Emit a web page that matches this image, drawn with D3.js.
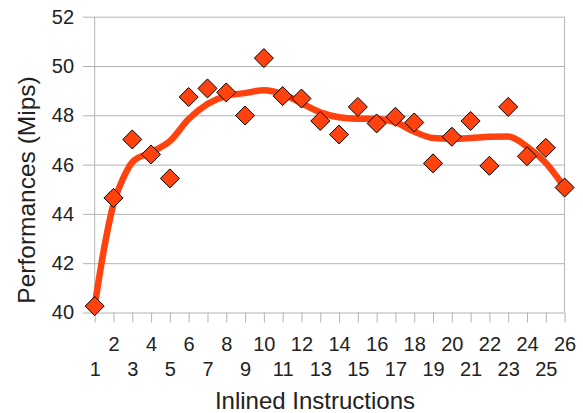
<!DOCTYPE html>
<html>
<head>
<meta charset="utf-8">
<script src="https://cdn.jsdelivr.net/npm/d3@7"></script>
<style>
  html, body { margin: 0; padding: 0; background: #fff; }
  svg { display: block; }
  text { font-family: "Liberation Sans", Arial, sans-serif; fill: #222; }
</style>
</head>
<body>
<svg id="chart" width="583" height="413"></svg>
<script>
// ---- data ----
const categories = [1,2,3,4,5,6,7,8,9,10,11,12,13,14,15,16,17,18,19,20,21,22,23,24,25,26];
const values = [40.26,44.65,47.02,46.41,45.44,48.74,49.09,48.93,47.99,50.32,48.78,48.68,47.77,47.22,48.34,47.67,47.94,47.71,46.05,47.13,47.77,45.95,48.34,46.34,46.68,45.07];
// smoothed trend line
const trendX = [1,1.5,2,2.5,3,4,5,6,7,8,9,10,11,12,13,14,15,16,17,18,19,20,21,22,23,24,25,26];
const trendY = [40.26,42.6,44.4,45.42,46.1,46.5,46.95,47.85,48.46,48.79,48.9,49.02,48.86,48.49,48.12,47.92,47.86,47.85,47.72,47.34,47.08,47.05,47.08,47.13,47.14,46.73,46.07,45.07];
const yTicks = [40,42,44,46,48,50,52];
const xTickLabels = categories.map(String);

// ---- layout ----
(function () {
const svg = d3.select("#chart");
const pLeft = 94.7, pRight = 564.6, pTop = 16.7, pBottom = 312.5;
const x = d3.scaleLinear().domain([1, 26]).range([pLeft, pRight]);
const y = d3.scaleLinear().domain([40, 52]).range([pBottom, pTop]);
const gridColor = "#b3b3b3";
const orange = "#ff420e";

// horizontal grid + y labels
const yAxis = d3.axisLeft(y).tickValues(yTicks).tickSize(pRight - 83).tickPadding(9)
  .tickFormat(d3.format("d"));
const gy = svg.append("g").attr("transform", `translate(${pRight},0)`).call(yAxis);
gy.select(".domain").remove();
gy.selectAll(".tick line").attr("stroke", gridColor).attr("stroke-width", 1);
gy.selectAll(".tick text").attr("font-size", 20).attr("fill", "#222")
  .attr("font-family", "Liberation Sans, Arial, sans-serif");

// vertical frame lines
svg.append("line").attr("x1", pLeft).attr("x2", pLeft).attr("y1", pTop).attr("y2", pBottom)
  .attr("stroke", gridColor);
svg.append("line").attr("x1", pRight).attr("x2", pRight).attr("y1", pTop).attr("y2", pBottom)
  .attr("stroke", gridColor);

// x axis ticks and labels (two staggered rows)
const xAxis = d3.axisBottom(x).tickValues(categories).tickSize(10).tickPadding(4)
  .tickFormat((d, i) => xTickLabels[i]);
const gx = svg.append("g").attr("transform", `translate(0,${pBottom})`).call(xAxis);
gx.select(".domain").remove();
gx.selectAll(".tick line").attr("stroke", gridColor);
gx.selectAll(".tick text")
  .attr("font-size", 20).attr("fill", "#222")
  .attr("font-family", "Liberation Sans, Arial, sans-serif")
  .attr("dy", null)
  .attr("y", d => (d % 2 === 0 ? 38.5 : 63.5));

// trend line
const line = d3.line()
  .x((d, i) => x(trendX[i]))
  .y(d => y(d))
  .curve(d3.curveMonotoneX);
svg.append("path").datum(trendY)
  .attr("d", line)
  .attr("fill", "none")
  .attr("stroke", orange)
  .attr("stroke-width", 6.5)
  .attr("stroke-linecap", "round")
  .attr("stroke-linejoin", "round");

// diamond markers
const r = 9.5;
svg.append("g").selectAll("path.pt").data(values).join("path")
  .attr("class", "pt")
  .attr("d", `M0,${-r}L${r},0L0,${r}L${-r},0Z`)
  .attr("transform", (d, i) => `translate(${x(categories[i])},${y(d)})`)
  .attr("fill", orange)
  .attr("stroke", "#000")
  .attr("stroke-width", 1);

// axis titles
svg.append("text")
  .attr("x", 315).attr("y", 409)
  .attr("text-anchor", "middle")
  .attr("font-size", 24)
  .text("Inlined Instructions");
svg.append("text")
  .attr("transform", "translate(35,190) rotate(-90)")
  .attr("text-anchor", "middle")
  .attr("font-size", 24.5)
  .text("Performances (Mips)");
})();
</script>
</body>
</html>
